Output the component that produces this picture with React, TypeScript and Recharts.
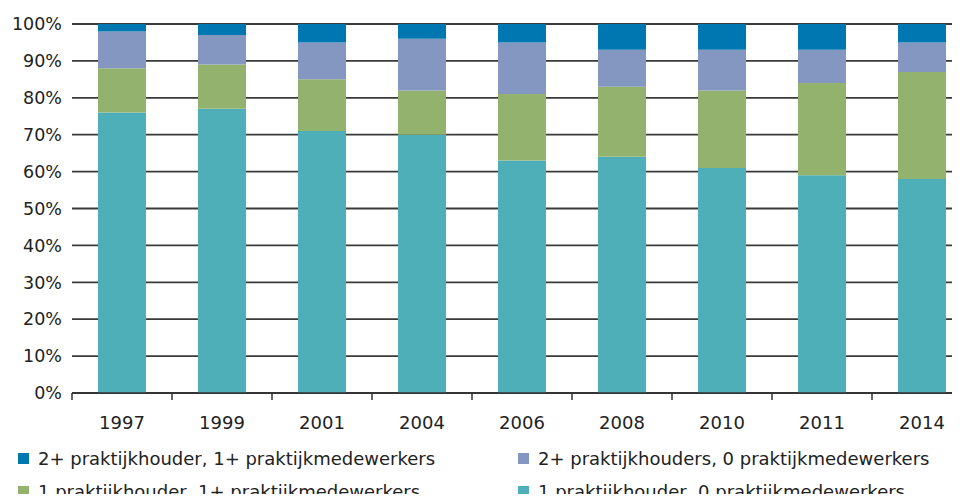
import { BarChart, Bar, XAxis, YAxis, CartesianGrid } from "recharts"

const years = ["1997", "1999", "2001", "2004", "2006", "2008", "2010", "2011", "2014"]
const oneHolderNoStaff = [76, 77, 71, 70, 63, 64, 61, 59, 58]
const oneHolderWithStaff = [12, 12, 14, 12, 18, 19, 21, 25, 29]
const multiHolderNoStaff = [10, 8, 10, 14, 14, 10, 11, 9, 8]
const multiHolderWithStaff = [2, 3, 5, 4, 5, 7, 7, 7, 5]
const yTicks = [0, 10, 20, 30, 40, 50, 60, 70, 80, 90, 100]

const series = [
  { key: "b", name: "1 praktijkhouder, 0 praktijkmedewerkers", color: "#4FAFB8", values: oneHolderNoStaff },
  { key: "g", name: "1 praktijkhouder, 1+ praktijkmedewerkers", color: "#93B26E", values: oneHolderWithStaff },
  { key: "l", name: "2+ praktijkhouders, 0 praktijkmedewerkers", color: "#8497C0", values: multiHolderNoStaff },
  { key: "d", name: "2+ praktijkhouder, 1+ praktijkmedewerkers", color: "#0077B0", values: multiHolderWithStaff },
]

const data = years.map((year, i) => {
  const row: Record<string, string | number> = { year }
  series.forEach((s) => (row[s.key] = s.values[i]))
  return row
})

// legend order as in the source: two columns, dark blue / lavender on top
const legendOrder = [series[3], series[2], series[1], series[0]]

const font = "'DejaVu Sans', sans-serif"

function YearTick(props: any) {
  const { x, y, payload } = props
  const half = payload?.offset ?? 50
  return (
    <g>
      <line x1={x - half} x2={x - half} y1={y - 8} y2={y - 1} stroke="#333" strokeWidth={1.5} />
      <text x={x} y={y + 28} textAnchor="middle" fontSize={18} fontFamily={font} fill="#222">
        {payload.value}
      </text>
    </g>
  )
}

function LegendBox() {
  return (
    <div
      style={{
        position: "absolute",
        left: 0,
        top: 448,
        width: 960,
        display: "grid",
        gridTemplateColumns: "500px 460px",
        rowGap: 12,
        fontFamily: font,
        fontSize: 18,
        color: "#222",
      }}
    >
      {legendOrder.map((s) => (
        <div key={s.key} style={{ display: "flex", alignItems: "center", paddingLeft: 18, whiteSpace: "nowrap" }}>
          <span style={{ width: 11, height: 11, background: s.color, marginRight: 9, display: "inline-block" }} />
          <span>{s.name}</span>
        </div>
      ))}
    </div>
  )
}

export default function App() {
  return (
    <div style={{ margin: -8, width: 960, height: 502, overflow: "hidden", position: "relative", background: "#fff" }}>
      <BarChart
        width={980}
        height={502}
        data={data}
        margin={{ top: 24, right: 8, left: 0, bottom: 79 }}
        barSize={48}
      >
        <CartesianGrid vertical={false} stroke="#3a3a3a" strokeWidth={1.8} />
        <XAxis
          dataKey="year"
          tickLine={false}
          axisLine={{ stroke: "#333", strokeWidth: 1.5 }}
          tick={<YearTick />}
          height={30}
          interval={0}
        />
        <YAxis
          domain={[0, 100]}
          ticks={yTicks}
          width={72}
          axisLine={false}
          tickLine={false}
          tickFormatter={(v) => `${v}%`}
          tick={{ fontSize: 17.5, fontFamily: font, fill: "#222" }}
          tickMargin={4}
        />
        {series.map((s) => (
          <Bar key={s.key} dataKey={s.key} name={s.name} stackId="a" fill={s.color} isAnimationActive={false} />
        ))}
      </BarChart>
      <LegendBox />
    </div>
  )
}
